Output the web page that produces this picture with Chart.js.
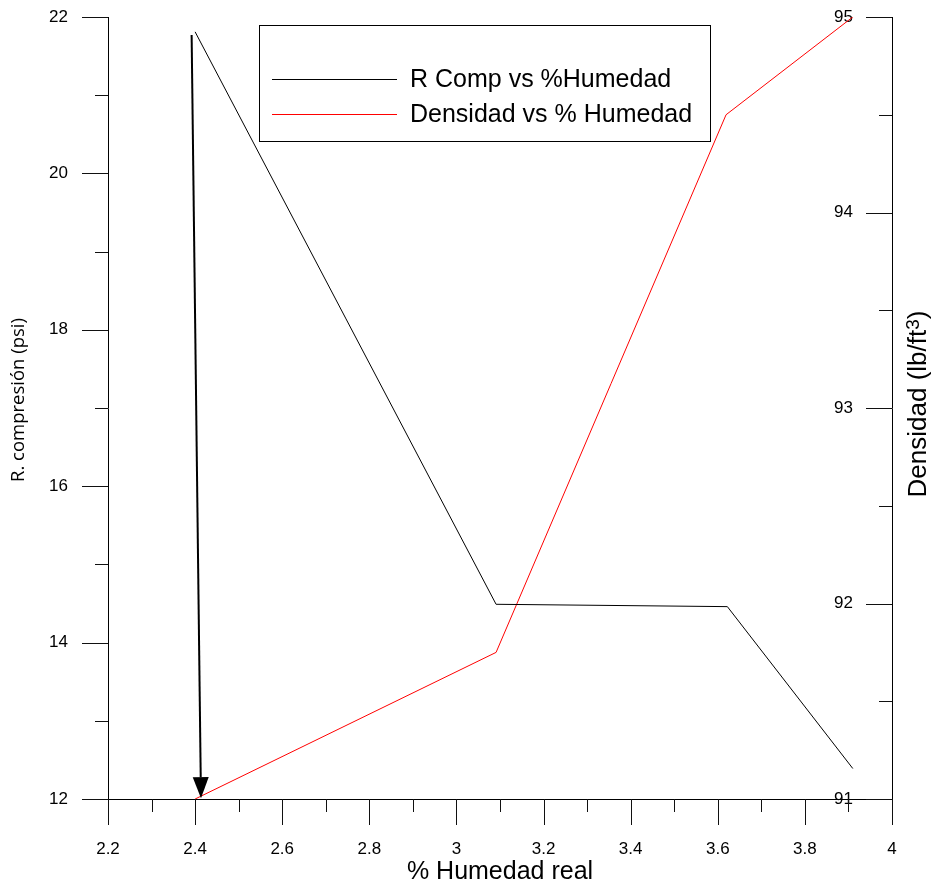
<html lang="es">

<head>
    <meta charset="UTF-8">
    <meta name="viewport" content="width=device-width, initial-scale=1.0">
    <script src="https://cdn.jsdelivr.net/npm/chart.js"></script>
    <title>R Comp / Densidad vs % Humedad</title>
</head>
<style>
    html, body {
        margin: 0;
        padding: 0;
        background: #fff;
    }
    #wrap {
        width: 934px;
        height: 888px;
    }
</style>

<body>
    <div id="wrap">
        <canvas id="humedadChart" width="934" height="888"></canvas>
    </div>

    <script>
        // data
        var humedad = [2.4, 3.091, 3.622, 3.91]
        var rComp = [21.81, 14.49, 14.46, 12.39]
        var humedadDens = [2.4, 3.091, 3.619, 3.91]
        var densidad = [91.0, 91.75, 94.5, 95.0]

        // arrow drawn on the chart (x = % humedad, y = R comp)
        var arrowFrom = [2.392, 21.77]
        var arrowTo = [2.4135, 12.01]

        // ticks
        var xMajor = [2.2, 2.4, 2.6, 2.8, 3, 3.2, 3.4, 3.6, 3.8, 4]
        var xMinor = [2.3, 2.5, 2.7, 2.9, 3.1, 3.3, 3.5, 3.7, 3.9]
        var yMajor = [12, 14, 16, 18, 20, 22]
        var yMinor = [13, 15, 17, 19, 21]
        var y2Major = [91, 92, 93, 94, 95]
        var y2Minor = [91.5, 92.5, 93.5, 94.5]

        var serie1 = 'R Comp vs %Humedad'
        var serie2 = 'Densidad vs % Humedad'
        var tituloX = '% Humedad real'
        var tituloY = 'R. compresión (psi)'
        var tituloY2 = 'Densidad (lb/ft'
        var tituloY2sup = '3'
        var tituloY2end = ')'

        var FONT = '"Liberation Sans", Arial, sans-serif'

        function pairs(xs, ys) {
            return xs.map(function (x, i) { return { x: x, y: ys[i] } })
        }

        function setTicks(list) {
            return function (scale) {
                scale.ticks = list.map(function (v) { return { value: v } })
            }
        }

        // fixed box size, no extra padding from the tick labels
        function fixSize(w, h) {
            return function (scale) {
                if (w !== null) scale.width = w
                if (h !== null) scale.height = h
                scale.paddingTop = 0
                scale.paddingBottom = 0
                scale.paddingLeft = 0
                scale.paddingRight = 0
            }
        }

        // tick marks (major long, minor short) and the x tick labels
        var tickMarks = {
            id: 'tickMarks',
            afterDraw: function (chart) {
                var ctx = chart.ctx
                var x = chart.scales.x, y = chart.scales.y, y2 = chart.scales.y2
                var a = chart.chartArea
                ctx.save()
                ctx.strokeStyle = '#111'
                ctx.lineWidth = 1
                ctx.beginPath()
                xMajor.forEach(function (v) {
                    var p = Math.round(x.getPixelForValue(v)) + 0.5
                    ctx.moveTo(p, a.bottom); ctx.lineTo(p, a.bottom + 26)
                })
                xMinor.forEach(function (v) {
                    var p = Math.round(x.getPixelForValue(v)) + 0.5
                    ctx.moveTo(p, a.bottom); ctx.lineTo(p, a.bottom + 13)
                })
                yMajor.forEach(function (v) {
                    var p = Math.round(y.getPixelForValue(v)) + 0.5
                    ctx.moveTo(a.left, p); ctx.lineTo(a.left - 26, p)
                })
                yMinor.forEach(function (v) {
                    var p = Math.round(y.getPixelForValue(v)) + 0.5
                    ctx.moveTo(a.left, p); ctx.lineTo(a.left - 13, p)
                })
                y2Major.forEach(function (v) {
                    var p = Math.round(y2.getPixelForValue(v)) + 0.5
                    ctx.moveTo(a.right, p); ctx.lineTo(a.right - 26, p)
                })
                y2Minor.forEach(function (v) {
                    var p = Math.round(y2.getPixelForValue(v)) + 0.5
                    ctx.moveTo(a.right, p); ctx.lineTo(a.right - 13, p)
                })
                ctx.stroke()

                ctx.fillStyle = '#000'
                ctx.font = '17px ' + FONT
                ctx.textAlign = 'center'
                ctx.textBaseline = 'middle'
                xMajor.forEach(function (v) {
                    ctx.fillText(String(v), x.getPixelForValue(v), a.bottom + 50)
                })
                ctx.restore()
            }
        }

        // black arrow pointing down to the first point
        var arrowPlugin = {
            id: 'arrowPlugin',
            afterDatasetsDraw: function (chart) {
                var ctx = chart.ctx
                var x = chart.scales.x, y = chart.scales.y
                var x0 = x.getPixelForValue(arrowFrom[0]), y0 = y.getPixelForValue(arrowFrom[1])
                var x1 = x.getPixelForValue(arrowTo[0]), y1 = y.getPixelForValue(arrowTo[1])
                var ang = Math.atan2(y1 - y0, x1 - x0)
                var len = 21, half = 8
                var bx = x1 - len * Math.cos(ang), by = y1 - len * Math.sin(ang)
                ctx.save()
                ctx.strokeStyle = '#000'
                ctx.fillStyle = '#000'
                ctx.lineWidth = 2
                ctx.beginPath()
                ctx.moveTo(x0, y0)
                ctx.lineTo(bx, by)
                ctx.stroke()
                ctx.beginPath()
                ctx.moveTo(x1, y1)
                ctx.lineTo(bx + half * Math.sin(ang), by - half * Math.cos(ang))
                ctx.lineTo(bx - half * Math.sin(ang), by + half * Math.cos(ang))
                ctx.closePath()
                ctx.fill()
                ctx.restore()
            }
        }

        // boxed legend inside the plot + both y axis titles
        var boxLegend = {
            id: 'boxLegend',
            afterDraw: function (chart) {
                var ctx = chart.ctx
                ctx.save()
                ctx.strokeStyle = '#000'
                ctx.lineWidth = 1
                ctx.strokeRect(259.5, 25.5, 451, 116)
                ctx.font = '25px ' + FONT
                ctx.textBaseline = 'middle'
                ctx.textAlign = 'left'
                chart.data.datasets.forEach(function (ds, i) {
                    var ly = 79.5 + i * 35
                    ctx.strokeStyle = ds.borderColor
                    ctx.beginPath()
                    ctx.moveTo(272, ly)
                    ctx.lineTo(397, ly)
                    ctx.stroke()
                    ctx.fillStyle = '#000'
                    ctx.fillText(ds.label, 410, ly + 1)
                })
                ctx.restore()

                var a = chart.chartArea

                // left title
                ctx.save()
                ctx.translate(19, 400)
                ctx.rotate(-Math.PI / 2)
                ctx.font = '18.5px "Open Sans", ' + FONT
                ctx.textAlign = 'center'
                ctx.textBaseline = 'middle'
                ctx.fillStyle = '#000'
                ctx.fillText(tituloY, 0, 0)
                ctx.restore()

                // right title, reads bottom to top, with superscript 3
                ctx.save()
                ctx.textBaseline = 'middle'
                ctx.textAlign = 'left'
                ctx.translate(919, (a.top + a.bottom) / 2 - 4)
                ctx.rotate(-Math.PI / 2)
                ctx.font = '26px ' + FONT
                var w1 = ctx.measureText(tituloY2).width
                ctx.font = '19px ' + FONT
                var w2 = ctx.measureText(tituloY2sup).width
                ctx.font = '26px ' + FONT
                var w3 = ctx.measureText(tituloY2end).width
                var sx = -(w1 + w2 + w3) / 2
                ctx.fillStyle = '#000'
                ctx.fillText(tituloY2, sx, 0)
                ctx.font = '19px ' + FONT
                ctx.fillText(tituloY2sup, sx + w1, -5)
                ctx.font = '26px ' + FONT
                ctx.fillText(tituloY2end, sx + w1 + w2, 0)
                ctx.restore()
            }
        }

        var tickFont = { family: FONT, size: 17 }

        var ctx = document.getElementById('humedadChart').getContext('2d')

        var myChart = new Chart(ctx, {
            type: 'line',
            data: {
                datasets: [
                    {
                        label: serie1,
                        data: pairs(humedad, rComp),
                        yAxisID: 'y',
                        borderColor: '#000000',
                        borderWidth: 1,
                        pointRadius: 0,
                        tension: 0
                    },
                    {
                        label: serie2,
                        data: pairs(humedadDens, densidad),
                        yAxisID: 'y2',
                        borderColor: '#ff0000',
                        borderWidth: 1,
                        pointRadius: 0,
                        tension: 0
                    }
                ]
            },
            options: {
                responsive: false,
                animation: false,
                layout: {
                    padding: { top: 17, left: 0, right: 0, bottom: 0 }
                },
                plugins: {
                    legend: { display: false },
                    tooltip: { enabled: false }
                },
                scales: {
                    x: {
                        type: 'linear',
                        position: 'bottom',
                        min: 2.2,
                        max: 4,
                        afterBuildTicks: setTicks(xMajor),
                        afterFit: fixSize(null, 89),
                        grid: { display: false, drawTicks: false },
                        border: { display: true, color: '#000', width: 1 },
                        ticks: { display: false },
                        title: {
                            display: true,
                            text: tituloX,
                            color: '#000',
                            font: { family: FONT, size: 25 },
                            padding: { top: 0, bottom: 1 }
                        }
                    },
                    y: {
                        type: 'linear',
                        position: 'left',
                        min: 12,
                        max: 22,
                        afterBuildTicks: setTicks(yMajor),
                        afterFit: fixSize(108, null),
                        grid: { display: false, drawTicks: false },
                        border: { display: true, color: '#000', width: 1 },
                        ticks: {
                            font: tickFont,
                            color: '#000',
                            padding: 40,
                            autoSkip: false,
                            callback: function (v) { return String(v) }
                        }
                    },
                    y2: {
                        type: 'linear',
                        position: 'right',
                        min: 91,
                        max: 95,
                        afterBuildTicks: setTicks(y2Major),
                        afterFit: fixSize(42, null),
                        grid: { display: false, drawTicks: false },
                        border: { display: true, color: '#000', width: 1 },
                        ticks: {
                            font: tickFont,
                            color: '#000',
                            mirror: true,
                            padding: -39,
                            autoSkip: false,
                            callback: function (v) { return String(v) }
                        }
                    }
                }
            },
            plugins: [tickMarks, arrowPlugin, boxLegend]
        })
    </script>

</body>

</html>
